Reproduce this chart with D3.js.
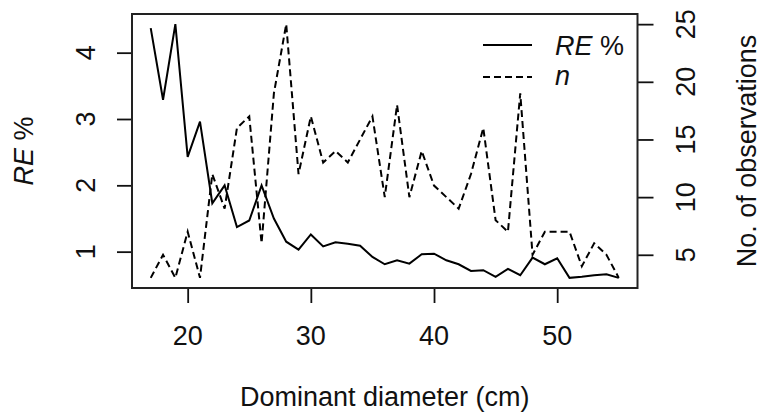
<!DOCTYPE html>
<html>
<head>
<meta charset="utf-8">
<script src="https://cdn.jsdelivr.net/npm/d3@7"></script>
<style>
  body { margin: 0; background: #fff; }
  text { font-family: "Liberation Sans", Arial, sans-serif; font-size: 27px; fill: #111; }
</style>
</head>
<body>
<div id="chart"></div>
<script>
// Dominant diameter classes (cm)
var diameter = [17,18,19,20,21,22,23,24,25,26,27,28,29,30,31,32,33,34,35,36,
                37,38,39,40,41,42,43,44,45,46,47,48,49,50,51,52,53,54,55];
// relative error, %
var rePct = [4.37,3.29,4.43,2.43,2.96,1.73,2.00,1.37,1.47,2.00,1.50,1.15,1.03,1.26,1.08,1.14,1.12,1.09,0.92,0.81,
             0.87,0.82,0.96,0.97,0.87,0.81,0.71,0.72,0.62,0.74,0.645,0.91,0.81,0.90,0.605,0.62,0.645,0.66,0.605];
// number of observations
var nObs = [3,5,3,7,3,12,9,16,17,6,19,25,12,17,13,14,13,15,17,10,
            18,10,14,11,10,9,12,16,8,7,19,5,7,7,7,4,6,5,3];

var xTicks = [20, 30, 40, 50];
var reTicks = [1, 2, 3, 4];
var nTicks = [5, 10, 15, 20, 25];

var W = 763, H = 412;
var box = { left: 132, right: 637.5, top: 14, bottom: 288 };

// R style 4% padding of the data range
function padded(ext) {
  var d = (ext[1] - ext[0]) * 0.04;
  return [ext[0] - d, ext[1] + d];
}

var svg = d3.select("#chart").append("svg")
  .attr("width", W)
  .attr("height", H);

var x = d3.scaleLinear().domain(padded(d3.extent(diameter))).range([box.left, box.right]);
var yRe = d3.scaleLinear().domain(padded(d3.extent(rePct))).range([box.bottom, box.top]);
var yN = d3.scaleLinear().domain(padded(d3.extent(nObs))).range([box.bottom, box.top]);

// axes (tick marks only, labels drawn below)
function styleAxis(g) {
  g.select(".domain").remove();
  g.selectAll(".tick line").attr("stroke", "#111").attr("stroke-width", 1.8);
}

svg.append("g")
  .attr("transform", "translate(0," + box.bottom + ")")
  .call(d3.axisBottom(x).tickValues(xTicks).tickSize(15).tickFormat(""))
  .call(styleAxis);

svg.append("g")
  .attr("transform", "translate(" + box.left + ",0)")
  .call(d3.axisLeft(yRe).tickValues(reTicks).tickSize(15).tickFormat(""))
  .call(styleAxis);

svg.append("g")
  .attr("transform", "translate(" + box.right + ",0)")
  .call(d3.axisRight(yN).tickValues(nTicks).tickSize(16).tickFormat(""))
  .call(styleAxis);

svg.selectAll(".xlab").data(xTicks).enter().append("text")
  .attr("x", function(d) { return x(d); })
  .attr("y", 345)
  .attr("text-anchor", "middle")
  .text(function(d) { return d; });

svg.selectAll(".relab").data(reTicks).enter().append("text")
  .attr("transform", function(d) { return "translate(95," + yRe(d) + ") rotate(-90)"; })
  .attr("text-anchor", "middle")
  .text(function(d) { return d; });

svg.selectAll(".nlab").data(nTicks).enter().append("text")
  .attr("transform", function(d) { return "translate(695," + yN(d) + ") rotate(-90)"; })
  .attr("text-anchor", "middle")
  .text(function(d) { return d; });

// axis titles
svg.append("text")
  .attr("x", (box.left + box.right) / 2)
  .attr("y", 406)
  .attr("text-anchor", "middle")
  .text("Dominant diameter (cm)");

var reTitle = svg.append("text")
  .attr("transform", "translate(33," + (box.top + box.bottom) / 2 + ") rotate(-90)")
  .attr("text-anchor", "middle");
reTitle.append("tspan").style("font-style", "italic").text("RE");
reTitle.append("tspan").text(" %");

svg.append("text")
  .attr("transform", "translate(756," + (box.top + box.bottom) / 2 + ") rotate(-90)")
  .attr("text-anchor", "middle")
  .text("No. of observations");

// series
var reLine = d3.line()
  .x(function(d, i) { return x(diameter[i]); })
  .y(function(d) { return yRe(d); });

var nLine = d3.line()
  .x(function(d, i) { return x(diameter[i]); })
  .y(function(d) { return yN(d); });

svg.append("path")
  .datum(nObs)
  .attr("d", nLine)
  .attr("fill", "none")
  .attr("stroke", "#000")
  .attr("stroke-width", 2)
  .attr("stroke-dasharray", "7,4");

svg.append("path")
  .datum(rePct)
  .attr("d", reLine)
  .attr("fill", "none")
  .attr("stroke", "#000")
  .attr("stroke-width", 2);

// frame
svg.append("rect")
  .attr("x", box.left)
  .attr("y", box.top)
  .attr("width", box.right - box.left)
  .attr("height", box.bottom - box.top)
  .attr("fill", "none")
  .attr("stroke", "#222")
  .attr("stroke-width", 2);

// legend
var legend = svg.append("g");
legend.append("line")
  .attr("x1", 483).attr("x2", 532).attr("y1", 45).attr("y2", 45)
  .attr("stroke", "#000").attr("stroke-width", 2);
legend.append("line")
  .attr("x1", 483).attr("x2", 532).attr("y1", 77).attr("y2", 77)
  .attr("stroke", "#000").attr("stroke-width", 2).attr("stroke-dasharray", "7,4");

var lt = legend.append("text").attr("x", 555).attr("y", 55);
lt.append("tspan").style("font-style", "italic").text("RE");
lt.append("tspan").text(" %");
legend.append("text").attr("x", 555).attr("y", 85)
  .style("font-style", "italic").text("n");
</script>
</body>
</html>
